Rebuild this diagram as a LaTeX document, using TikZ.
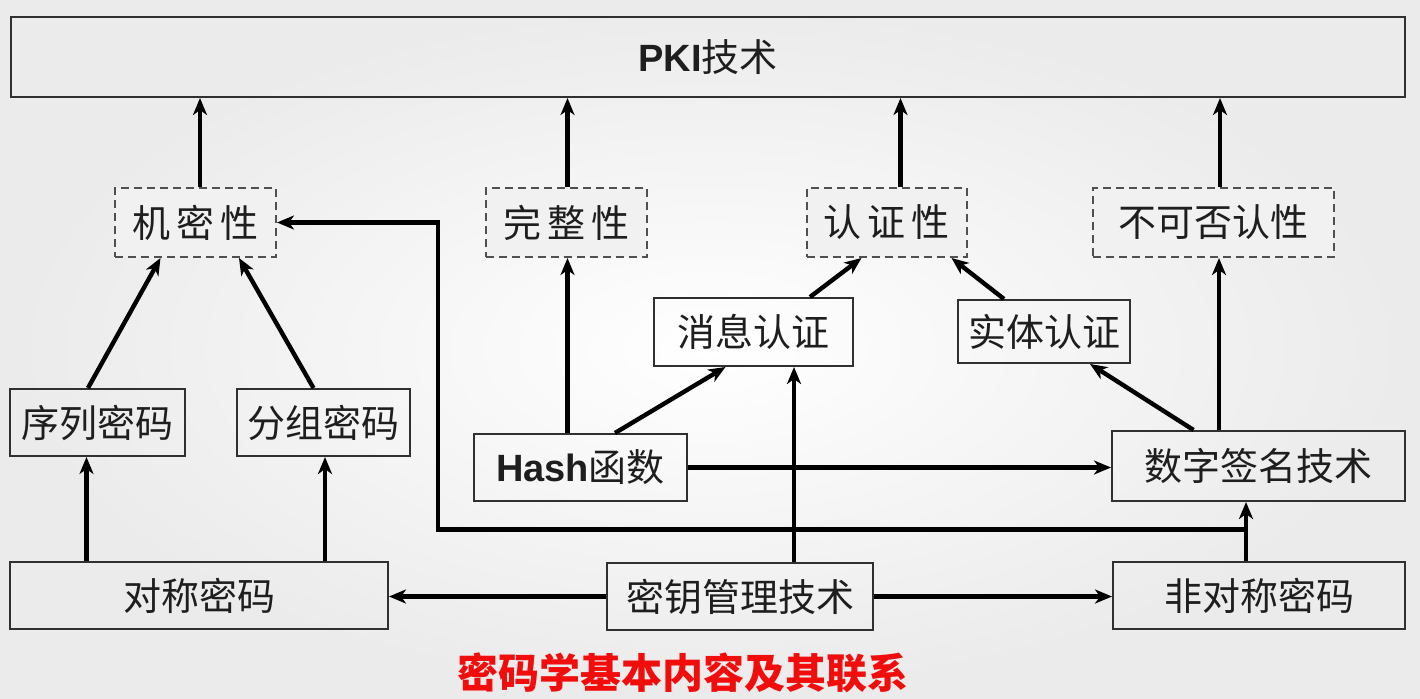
\documentclass[tikz,border=0pt]{standalone}
\usepackage{fontspec}
\usetikzlibrary{arrows.meta,calc}
\newfontfamily\cjk{Noto Sans CJK SC}
\newfontfamily\lat{Liberation Sans}
\definecolor{txt}{HTML}{1E1E1E}
\definecolor{edge}{HTML}{303030}
\definecolor{dedge}{HTML}{505050}
\definecolor{dfill}{HTML}{F1F1F1}
\definecolor{titlered}{HTML}{F20D0D}
\begin{document}
\begin{tikzpicture}[x=1pt,y=-1pt,
  box/.style={draw=edge,line width=2pt,inner sep=0pt,text=txt,
    font=\cjk\fontsize{38}{44}\selectfont},
  dbox/.style={draw=dedge,fill=dfill,line width=2pt,dash pattern=on 8pt off 5pt,
    inner sep=0pt,text=txt,font=\cjk\fontsize{38}{44}\selectfont},
  arr/.style={line width=4.4pt,black,-{Stealth[length=17pt,width=14pt,inset=5pt]}},
  ln/.style={line width=4.4pt,black}]
\shade[inner color=white,outer color=black!8] (0,0) rectangle (1420,698);
\useasboundingbox (0,0) rectangle (1420,698);
% nodes
\node[box,minimum width=1394pt,minimum height=80pt] (pki) at (708,57) {{\lat\bfseries PKI}技术};
\node[dbox,minimum width=161pt,minimum height=69pt] (jm) at (195.5,222.5) {机\,密\,性};
\node[dbox,minimum width=161pt,minimum height=69pt] (wz) at (566.5,222.5) {完\,整\,性};
\node[dbox,minimum width=160pt,minimum height=69pt] (rz) at (886.5,222.5) {认\,证\,性};
\node[dbox,minimum width=241pt,minimum height=69pt] (bk) at (1213.5,222.5) {不可否认性};
\node[box,minimum width=199pt,minimum height=68pt] (xx) at (753.5,332) {消息认证};
\node[box,minimum width=172pt,minimum height=63pt] (st) at (1044,331.5) {实体认证};
\node[box,minimum width=175pt,minimum height=67pt] (xl) at (97.5,422.5) {序列密码};
\node[box,minimum width=173pt,minimum height=67pt] (fz) at (323.5,422.5) {分组密码};
\node[box,minimum width=213pt,minimum height=67pt] (hash) at (580.5,467.5) {{\lat\bfseries Hash}函数};
\node[box,minimum width=293pt,minimum height=70pt] (sz) at (1258.5,466) {数字签名技术};
\node[box,minimum width=378pt,minimum height=67pt] (dc) at (199,595.5) {对称密码};
\node[box,minimum width=266pt,minimum height=67pt] (my) at (740,596.5) {密钥管理技术};
\node[box,minimum width=292pt,minimum height=67pt] (fd) at (1259,595.5) {非对称密码};
\node[text=titlered,font=\cjk\bfseries\fontsize{41}{48}\selectfont,inner sep=0pt] (title) at (683,673) {密码学基本内容及其联系};
% connectors to PKI
\draw[arr] ([xshift=4.5pt]jm.north) -- ([xshift=4.5pt]jm.north |- pki.south);
\draw[arr] ([xshift=1pt]wz.north) -- ([xshift=1pt]wz.north |- pki.south);
\draw[arr] ([xshift=14pt]rz.north) -- ([xshift=14pt]rz.north |- pki.south);
\draw[arr] ([xshift=6.5pt]bk.north) -- ([xshift=6.5pt]bk.north |- pki.south);
% confidentiality
\draw[arr] ([xshift=-9.5pt]xl.north) -- ([xshift=-35pt]jm.south);
\draw[arr] ([xshift=-10pt]fz.north) -- ([xshift=43.5pt]jm.south);
\draw[arr] ([xshift=-11pt]xl.south |- dc.north) -- ([xshift=-11pt]xl.south);
\draw[arr] ([xshift=1.5pt]fz.south |- dc.north) -- ([xshift=1.5pt]fz.south);
% integrity / authentication
\draw[arr] ([xshift=1pt]wz.south |- hash.north) -- ([xshift=1pt]wz.south);
\draw[arr] ([xshift=34.5pt]hash.north) -- ([xshift=-28pt]xx.south);
\draw[arr] ([xshift=56.5pt]xx.north) -- ([xshift=-25pt]rz.south);
\draw[arr] ([xshift=-40pt]st.north) -- ([xshift=65pt]rz.south);
\draw[arr] ([xshift=-65pt]sz.north) -- ([xshift=46pt]st.south);
\draw[arr] ([xshift=-39.5pt]sz.north) -- ([xshift=-39.5pt]sz.north |- bk.south);
\draw[arr] (hash.east) -- (hash.east -| sz.west);
% key management
\draw[arr] ([xshift=54pt]my.north) -- ([xshift=54pt]my.north |- xx.south);
\draw[arr] (my.west) -- (my.west -| dc.east);
\draw[arr] (my.east) -- (my.east -| fd.west);
\draw[arr] ([xshift=-13pt]fd.north) -- ([xshift=-13pt]fd.north |- sz.south);
\coordinate (jn) at ($([xshift=-13pt]fd.north)!0.5!([xshift=-13pt]fd.north |- sz.south)+(0,-2)$);
\coordinate (lc) at (438,0);
\draw[arr] (jn) -- (jn -| lc) |- (jm.east);
\end{tikzpicture}
\end{document}
